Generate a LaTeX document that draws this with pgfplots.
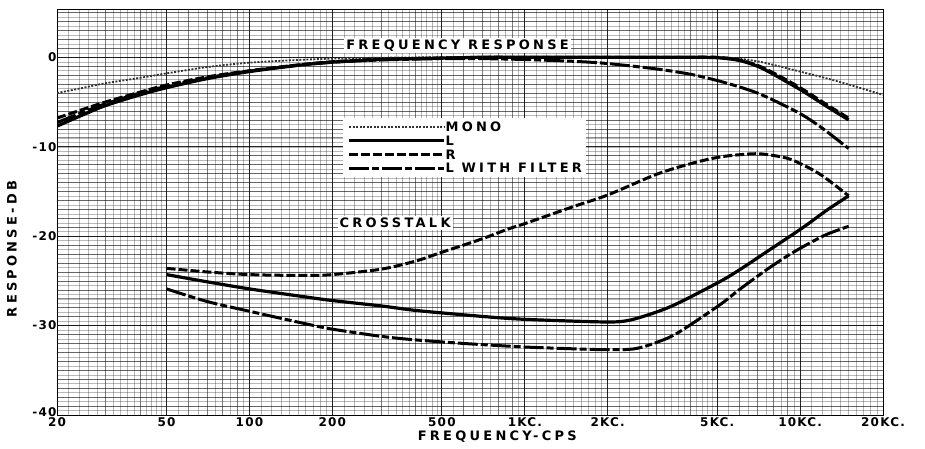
\documentclass[border=0pt]{standalone}
\usepackage{fontspec}
\setmainfont{DejaVu Sans}[LetterSpace=25]
\usepackage{pgfplots}
\pgfplotsset{compat=1.18}
\newcommand\lbl{\fontsize{13}{14}\selectfont\bfseries}
\newcommand\tck{\fontsize{12}{13}\selectfont\bfseries\addfontfeature{LetterSpace=10}}
\begin{document}
\begin{tikzpicture}[x=1pt,y=1pt]
\useasboundingbox (0,0) rectangle (925,449);
\begin{axis}[
  at={(57pt,34pt)}, anchor=south west,
  width=826pt, height=406pt, scale only axis,
  xmode=log, xmin=20, xmax=20000, ymin=-40, ymax=5.4,
  axis background/.style={fill=white},
  axis line style={black, line width=0.9pt},
  xtick={20,50,100,200,500,1000,2000,5000,10000,20000},
  xticklabels={20,50,100,200,500,1KC.,2KC.,5KC.,10KC.,20KC.},
  ytick={-40,-30,-20,-10,0},
  yticklabels={\raisebox{6pt}{-40},-30,-20,-10,0},
  minor xtick={22,24,26,28,32,34,36,38,42,44,46,48,55,65,75,85,95,
    110,120,130,140,150,160,170,180,190,220,240,260,280,320,340,360,380,420,440,460,480,550,650,750,850,950,
    1100,1200,1300,1400,1500,1600,1700,1800,1900,2200,2400,2600,2800,3200,3400,3600,3800,4200,4400,4600,4800,5500,6500,7500,8500,9500,
    11000,12000,13000,14000,15000,16000,17000,18000,19000},
  minor ytick={-40,-39.5,...,5},
  extra x ticks={30,40,60,70,80,90,300,400,600,700,800,900,3000,4000,6000,7000,8000,9000},
  extra x tick labels={},
  extra x tick style={grid=major, major grid style={black, opacity=0.5, line width=0.6pt}},
  extra y ticks={-39,-38,-37,-36,-35,-34,-33,-32,-31,-29,-28,-27,-26,-25,-24,-23,-22,-21,-19,-18,-17,-16,-15,-14,-13,-12,-11,-9,-8,-7,-6,-5,-4,-3,-2,-1,1,2,3,4,5},
  extra y tick labels={},
  extra y tick style={grid=major, major grid style={black, opacity=0.45, line width=0.55pt}},
  grid=both,
  major grid style={black, opacity=0.85, line width=0.9pt},
  minor grid style={black, opacity=0.28, line width=0.4pt},
  tick style={draw=none},
  major tick length=0pt, minor tick length=0pt,
  xticklabel style={font=\tck, yshift=1pt},
  yticklabel style={font=\tck, xshift=3pt},
  xlabel={FREQUENCY-CPS},
  ylabel={RESPONSE-DB},
  xlabel style={font=\lbl, at={(axis description cs:0.533,-0.054)}, anchor=center},
  ylabel style={font=\lbl, at={(axis description cs:-0.0545,0.409)}, anchor=center},
  legend style={at={(axis cs:219,-6.8)}, anchor=north west, draw=none, fill=white,
    font=\lbl, inner sep=4pt, row sep=4.2pt,
    nodes={inner sep=0pt, text height=9.5pt, text depth=0pt},
    /tikz/every even column/.append style={column sep=8pt}},
  legend cell align=left,
  legend image code/.code={\draw[#1] (0pt,0pt) -- (95pt,0pt);},
  every axis plot/.append style={black, smooth, tension=0.5},
]
% MONO
\addplot[line width=1.8pt, black!80, dash pattern=on 2pt off 1.5pt] coordinates {
(20,-4.0)(25,-3.4)(30,-2.9)(40,-2.3)(50,-1.8)(70,-1.1)(100,-0.6)(150,-0.3)(200,-0.15)(300,-0.05)(500,0)(1000,0)(3000,0)(5000,0)(6000,-0.15)(7000,-0.45)(8000,-0.85)(10000,-1.6)(13000,-2.5)(16000,-3.3)(20000,-4.2)};
\addlegendentry{MONO}
% L
\addplot[line width=3.2pt] coordinates {
(20,-7.7)(25,-6.4)(30,-5.4)(40,-4.2)(50,-3.4)(70,-2.4)(100,-1.6)(150,-0.9)(200,-0.55)(300,-0.25)(500,-0.1)(700,0)(1000,0)(2000,0)(4000,0)(5000,-0.05)(6000,-0.35)(7000,-1.0)(8000,-1.9)(9000,-2.8)(10000,-3.6)(11000,-4.4)(12500,-5.5)(15000,-7.0)};
\addlegendentry{L}
% R
\addplot[line width=3pt, dash pattern=on 9pt off 3pt] coordinates {
(20,-6.8)(25,-5.8)(30,-5.0)(40,-3.9)(50,-3.1)(70,-2.2)(100,-1.5)(150,-0.85)(200,-0.5)(300,-0.22)(500,-0.08)(700,0)(1000,0)(2000,0)(4000,0)(5000,0)(6000,-0.3)(7000,-0.9)(8000,-1.75)(9000,-2.6)(10000,-3.4)(11000,-4.2)(12500,-5.3)(15000,-6.8)};
\addlegendentry{R}
% L WITH FILTER
\addplot[line width=3pt, dash pattern=on 20pt off 3pt on 7pt off 3pt] coordinates {
(20,-7.3)(25,-6.1)(30,-5.2)(40,-4.0)(50,-3.25)(70,-2.3)(100,-1.55)(150,-0.9)(200,-0.55)(300,-0.3)(500,-0.15)(700,-0.15)(1000,-0.25)(1500,-0.45)(2000,-0.7)(3000,-1.3)(4000,-1.9)(5000,-2.6)(6000,-3.3)(7000,-4.0)(8000,-4.8)(10000,-6.3)(12000,-7.9)(15000,-10.2)};
\addlegendentry{L WITH FILTER}
% Crosstalk R
\addplot[forget plot, line width=3pt, dash pattern=on 9pt off 3pt] coordinates {
(50,-23.6)(70,-24.0)(100,-24.3)(160,-24.4)(200,-24.3)(300,-23.7)(400,-22.8)(500,-21.8)(700,-20.3)(870,-19.2)(1000,-18.6)(1500,-16.7)(2000,-15.4)(3000,-13.1)(4000,-11.9)(5000,-11.2)(6000,-10.9)(7200,-10.8)(9000,-11.3)(10500,-12.2)(11700,-13.0)(13000,-14.0)(15000,-15.5)};
% Crosstalk L
\addplot[forget plot, line width=3.2pt] coordinates {
(50,-24.3)(70,-25.1)(100,-25.9)(160,-26.8)(200,-27.2)(300,-27.8)(400,-28.3)(600,-28.8)(870,-29.2)(1200,-29.4)(2000,-29.6)(2400,-29.4)(3000,-28.5)(3600,-27.5)(5100,-25.1)(6000,-23.8)(7600,-21.7)(9000,-20.2)(10500,-18.8)(12500,-17.1)(15000,-15.5)};
% Crosstalk L with filter
\addplot[forget plot, line width=3pt, dash pattern=on 20pt off 3pt on 7pt off 3pt] coordinates {
(50,-25.9)(70,-27.3)(100,-28.4)(160,-29.8)(200,-30.4)(300,-31.2)(400,-31.6)(600,-32.0)(870,-32.3)(1000,-32.4)(1500,-32.6)(2000,-32.7)(2500,-32.6)(3000,-31.9)(3600,-30.8)(5100,-27.7)(6000,-26.0)(7600,-23.7)(9000,-22.2)(10500,-21.0)(12500,-19.8)(15000,-18.9)};
\node[fill=white, inner sep=2pt, font=\lbl] at (axis cs:570,1.34) {FREQUENCY RESPONSE};
\node[fill=white, inner sep=2pt, font=\lbl] at (axis cs:338,-18.5) {CROSSTALK};
\end{axis}
\end{tikzpicture}
\end{document}
